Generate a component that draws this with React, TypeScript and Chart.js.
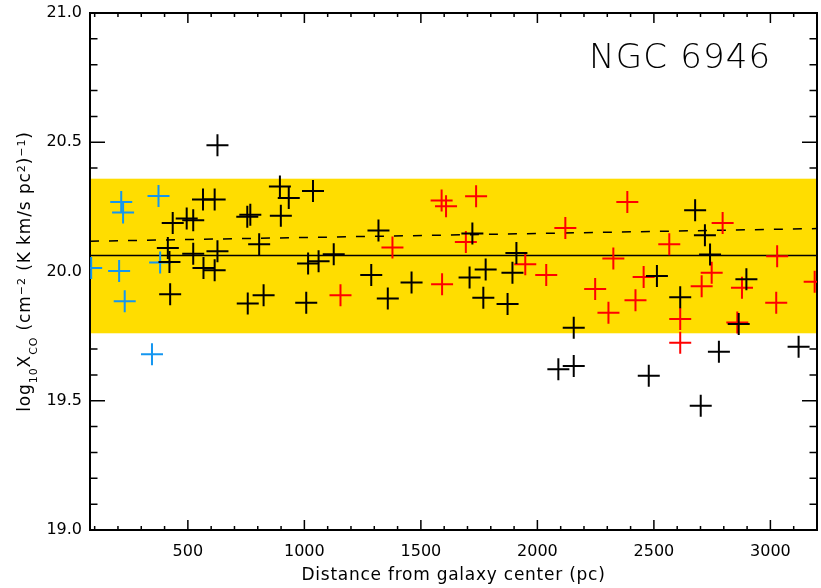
import { useEffect, useRef } from "react";
import { Chart, registerables } from "chart.js";

Chart.register(...registerables);

// ---------------- data ----------------
const blackX = [627, 565, 615, 435, 495, 523, 755, 768, 806, 414, 421, 523, 627, 567, 615, 424, 757, 825, 895, 933, 1037, 899, 1016, 1061, 1126, 1008, 1318, 1287, 1358, 1460, 1721, 1910, 1778, 1709, 1893, 1768, 1872, 2156, 2090, 2156, 2478, 2513, 2677, 2719, 2741, 2897, 2613, 2864, 2779, 3121, 2701];
const blackY = [20.488, 20.279, 20.279, 20.188, 20.205, 20.198, 20.212, 20.22, 20.105, 20.091, 20.037, 20.069, 20.078, 20.014, 20.005, 19.912, 19.876, 19.908, 20.329, 20.284, 20.311, 20.216, 20.031, 20.04, 20.067, 19.879, 20.159, 19.986, 19.896, 19.957, 20.147, 20.072, 20.008, 19.977, 19.995, 19.898, 19.874, 19.782, 19.622, 19.634, 19.597, 19.983, 20.237, 20.14, 20.066, 19.97, 19.9, 19.797, 19.69, 19.709, 19.481];

const redX = [1155, 1378, 1589, 1608, 1591, 1737, 1693, 1948, 2038, 2120, 2386, 2326, 2248, 2305, 2421, 2456, 2795, 2566, 3029, 2748, 2705, 2878, 2613, 2613, 3025, 2858, 3190];
const redY = [19.908, 20.093, 20.275, 20.252, 19.951, 20.291, 20.114, 20.028, 19.986, 20.168, 20.269, 20.05, 19.932, 19.84, 19.889, 19.979, 20.188, 20.105, 20.059, 19.995, 19.943, 19.937, 19.816, 19.724, 19.879, 19.803, 19.96];

const blueX = [85, 205, 214, 222, 229, 374, 381, 346];
const blueY = [20.014, 20.002, 20.269, 20.228, 19.885, 20.292, 20.035, 19.68];

const fitX = [80, 3200];
const fitSolidY = [20.062, 20.062];
const fitDashedY = [20.117, 20.166];
const bandLow = 19.761;
const bandHigh = 20.359;

const xMin = 80;
const xMax = 3200;
const yMin = 19.0;
const yMax = 21.0;
const xTickValues = [500, 1000, 1500, 2000, 2500, 3000];
const xTickLabels = ["500", "1000", "1500", "2000", "2500", "3000"];
const yTickValues = [19.0, 19.5, 20.0, 20.5, 21.0];
const yTickLabels = ["19.0", "19.5", "20.0", "20.5", "21.0"];
const xMinorStep = 100;
const yMinorStep = 0.1;

const galaxyName = "NGC 6946";
const xTitle = "Distance from galaxy center (pc)";

const FONT = "'DejaVu Sans', sans-serif";

function pts(xs: number[], ys: number[]) {
  return xs.map((x, i) => ({ x, y: ys[i] }));
}

const framePlugin = {
  id: "idlFrame",
  beforeDatasetsDraw(chart: any) {
    const { ctx, chartArea } = chart;
    const { left, right, top, bottom } = chartArea;
    const xs = chart.scales.x;
    const ys = chart.scales.y;
    ctx.save();
    ctx.strokeStyle = "#000";
    ctx.lineWidth = 1.5;
    ctx.beginPath();
    const nx = Math.round((xMax - xMin) / xMinorStep) + 2;
    for (let i = 0; i < nx; i++) {
      const v = Math.ceil(xMin / xMinorStep) * xMinorStep + i * xMinorStep;
      if (v < xMin || v > xMax) continue;
      const px = xs.getPixelForValue(v);
      const major = xTickValues.includes(v);
      const len = major ? 10 : 4;
      ctx.moveTo(px, bottom);
      ctx.lineTo(px, bottom - len);
      ctx.moveTo(px, top);
      ctx.lineTo(px, top + len);
    }
    const ny = Math.round((yMax - yMin) / yMinorStep);
    for (let i = 0; i <= ny; i++) {
      const v = yMin + i * yMinorStep;
      const py = ys.getPixelForValue(v);
      const major = yTickValues.some((t) => Math.abs(t - v) < 1e-6);
      const len = major ? 15 : 7.5;
      ctx.moveTo(left, py);
      ctx.lineTo(left + len, py);
      ctx.moveTo(right, py);
      ctx.lineTo(right - len, py);
    }
    ctx.stroke();

    // band
    const yHi = ys.getPixelForValue(bandHigh);
    const yLo = ys.getPixelForValue(bandLow);
    ctx.fillStyle = "rgb(255,221,0)";
    ctx.fillRect(left, yHi, right - left, yLo - yHi);

    // frame
    ctx.lineWidth = 2;
    ctx.strokeRect(left, top, right - left, bottom - top);
    ctx.restore();
  },
  afterDraw(chart: any) {
    const { ctx, chartArea } = chart;
    const { left, right, top, bottom } = chartArea;
    ctx.save();
    ctx.fillStyle = "#000";
    // galaxy name
    ctx.font = `300 34px ${FONT}`;
    ctx.textAlign = "left";
    ctx.textBaseline = "alphabetic";
    (ctx as any).letterSpacing = "1.2px";
    ctx.fillText(galaxyName, 589, 68);

    // x title
    ctx.font = `400 17px ${FONT}`;
    (ctx as any).letterSpacing = "0.75px";
    ctx.textAlign = "center";
    ctx.fillText(xTitle, (left + right) / 2, 580);

    // y title (rotated rich text)
    (ctx as any).letterSpacing = "0.9px";
    const parts = [
      { t: "log", s: 17, dy: 0 },
      { t: "10", s: 11, dy: 7 },
      { t: "X", s: 17, dy: 0 },
      { t: "CO", s: 11, dy: 7 },
      { t: " (cm", s: 17, dy: 0 },
      { t: "−2", s: 11, dy: -5 },
      { t: " (K km/s pc", s: 17, dy: 0 },
      { t: "2", s: 11, dy: -5 },
      { t: ")", s: 17, dy: 0 },
      { t: "−1", s: 11, dy: -5 },
      { t: ")", s: 17, dy: 0 },
    ];
    let total = 0;
    const widths = parts.map((p) => {
      ctx.font = `400 ${p.s}px ${FONT}`;
      const w = ctx.measureText(p.t).width;
      total += w;
      return w;
    });
    const cy = (top + bottom) / 2;
    ctx.translate(30, cy);
    ctx.rotate(-Math.PI / 2);
    ctx.textAlign = "left";
    let xpos = -total / 2;
    parts.forEach((p, i) => {
      ctx.font = `400 ${p.s}px ${FONT}`;
      ctx.fillText(p.t, xpos, p.dy);
      xpos += widths[i];
    });
    ctx.restore();
  },
};

export default function App() {
  const ref = useRef<HTMLCanvasElement | null>(null);
  useEffect(() => {
    if (!ref.current) return;
    const pointDs = (label: string, xs: number[], ys: number[], color: string) => ({
      type: "scatter" as const,
      label,
      data: pts(xs, ys),
      pointStyle: "cross",
      pointRadius: 11,
      pointHoverRadius: 11,
      borderWidth: 2,
      borderColor: color,
      backgroundColor: color,
      showLine: false,
    });
    const chart = new Chart(ref.current, {
      type: "scatter",
      data: {
        datasets: [
          pointDs("black", blackX, blackY, "#000000"),
          pointDs("red", redX, redY, "#ff0000"),
          pointDs("blue", blueX, blueY, "rgb(20,150,240)"),
          {
            type: "line" as const,
            label: "fit",
            data: pts(fitX, fitSolidY),
            borderColor: "#000",
            borderWidth: 1.5,
            pointRadius: 0,
            showLine: true,
            fill: false,
          },
          {
            type: "line" as const,
            label: "fit2",
            data: pts(fitX, fitDashedY),
            borderColor: "#000",
            borderWidth: 1.5,
            borderDash: [9, 10],
            pointRadius: 0,
            showLine: true,
            fill: false,
          },
        ] as any,
      },
      options: {
        animation: false,
        responsive: false,
        maintainAspectRatio: false,
        layout: { padding: { top: 12, right: 7, left: 0, bottom: 0 } },
        plugins: { legend: { display: false }, tooltip: { enabled: false } },
        scales: {
          x: {
            type: "linear",
            min: xMin,
            max: xMax,
            grid: { display: false, drawTicks: false },
            border: { display: false },
            afterFit: (s: any) => {
              s.height = 58;
              s.paddingLeft = 0;
              s.paddingRight = 0;
            },
            afterBuildTicks: (s: any) => {
              s.ticks = xTickValues.map((v) => ({ value: v }));
            },
            ticks: {
              padding: 12,
              color: "#000",
              font: { family: FONT, size: 16 },
              callback: (v: any) => {
                const i = xTickValues.indexOf(Number(v));
                return i >= 0 ? xTickLabels[i] : "";
              },
              maxRotation: 0,
            },
          },
          y: {
            type: "linear",
            min: yMin,
            max: yMax,
            grid: { display: false, drawTicks: false },
            border: { display: false },
            afterFit: (s: any) => {
              s.width = 90;
              s.paddingTop = 0;
              s.paddingBottom = 0;
            },
            afterBuildTicks: (s: any) => {
              s.ticks = yTickValues.map((v) => ({ value: v }));
            },
            ticks: {
              padding: 8,
              color: "#000",
              font: { family: FONT, size: 16 },
              callback: (v: any) => {
                const i = yTickValues.findIndex((t) => Math.abs(t - Number(v)) < 1e-6);
                return i >= 0 ? yTickLabels[i] : "";
              },
            },
          },
        },
      } as any,
      plugins: [framePlugin],
    });
    return () => chart.destroy();
  }, []);
  return (
    <div style={{ position: "absolute", left: 0, top: 0, width: 821, height: 588, overflow: "hidden", background: "#fff" }}>
      <canvas ref={ref} width={830} height={588} style={{ width: 830, height: 588, display: "block" }} />
    </div>
  );
}
